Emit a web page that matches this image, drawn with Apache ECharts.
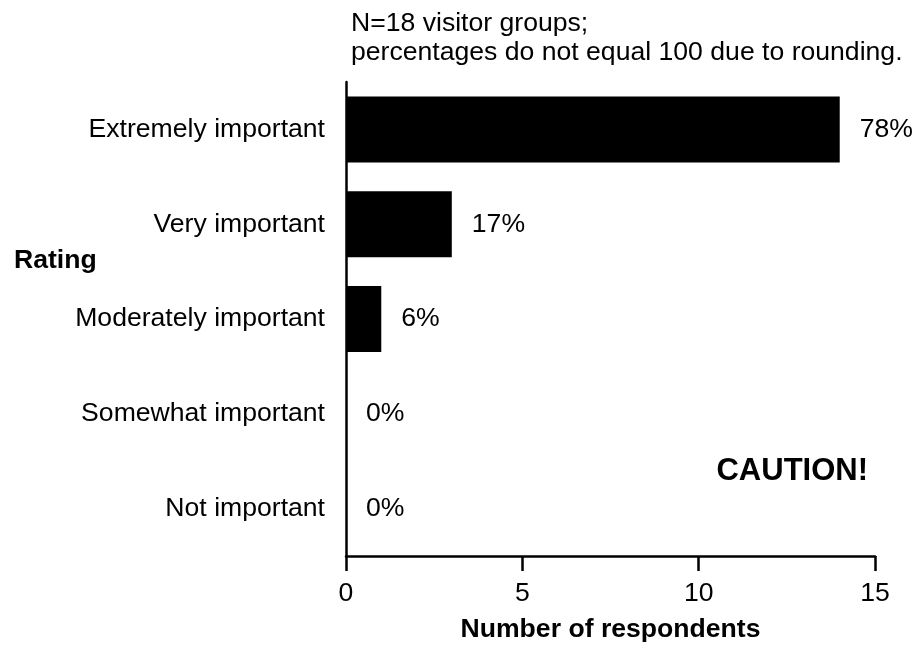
<!DOCTYPE html>
<html>
<head>
<meta charset="utf-8">
<script src="https://cdn.jsdelivr.net/npm/echarts@6/dist/echarts.min.js"></script>
<style>
html,body{margin:0;padding:0;background:#fff;}
#c{width:917px;height:648px;}
</style>
</head>
<body>
<div id="c"></div>
<script>
const categories = ["Extremely important", "Very important", "Moderately important", "Somewhat important", "Not important"];
const respondents = [14, 3, 1, 0, 0];
const percentLabels = ["78%", "17%", "6%", "0%", "0%"];
const xTicks = [0, 5, 10, 15];
const noteLines = ["N=18 visitor groups;", "percentages do not equal 100 due to rounding."];

const FONT = "'Liberation Sans', Arial, Helvetica, sans-serif";
const FS = 26.6;
const chart = echarts.init(document.getElementById('c'), null, {renderer: 'canvas'});

chart.setOption({
  backgroundColor: '#fff',
  animation: false,
  textStyle: {fontFamily: FONT, color: '#000'},
  title: {
    text: noteLines.join('\n'),
    left: 351,
    top: 9,
    padding: 0,
    textStyle: {fontFamily: FONT, fontSize: FS, fontWeight: 'normal', color: '#000', lineHeight: 29}
  },
  grid: {left: 346, right: 42, top: 82, height: 479, containLabel: false},
  xAxis: {
    type: 'value',
    min: xTicks[0],
    max: xTicks[xTicks.length - 1],
    interval: 5,
    name: 'Number of respondents',
    nameLocation: 'middle',
    nameGap: 60,
    nameTextStyle: {fontFamily: FONT, fontSize: FS, fontWeight: 'bold', color: '#000'},
    axisLine: {show: true, lineStyle: {color: '#000', width: 2.5}},
    axisTick: {show: true, length: 15, lineStyle: {color: '#000', width: 2.5}},
    axisLabel: {fontFamily: FONT, fontSize: FS, color: '#000', margin: 24},
    splitLine: {show: false}
  },
  yAxis: {
    type: 'category',
    inverse: true,
    data: categories,
    axisLine: {show: true, lineStyle: {color: '#000', width: 2.5}},
    axisTick: {show: false},
    axisLabel: {fontFamily: FONT, fontSize: FS, color: '#000', margin: 21},
    splitLine: {show: false}
  },
  series: [{
    type: 'bar',
    data: respondents,
    barWidth: 66,
    itemStyle: {color: '#000'},
    label: {
      show: true,
      position: 'right',
      distance: 20,
      fontFamily: FONT,
      fontSize: FS,
      color: '#000',
      formatter: function (p) { return percentLabels[p.dataIndex]; }
    }
  }],
  graphic: [
    {
      type: 'text',
      left: 14,
      top: 247,
      style: {text: 'Rating', fontFamily: FONT, fontSize: FS, fontWeight: 'bold', fill: '#000'}
    },
    {
      type: 'text',
      right: 49,
      top: 456,
      style: {text: 'CAUTION!', fontFamily: FONT, fontSize: 31, fontWeight: 'bold', fill: '#000'}
    }
  ]
});
</script>
</body>
</html>
